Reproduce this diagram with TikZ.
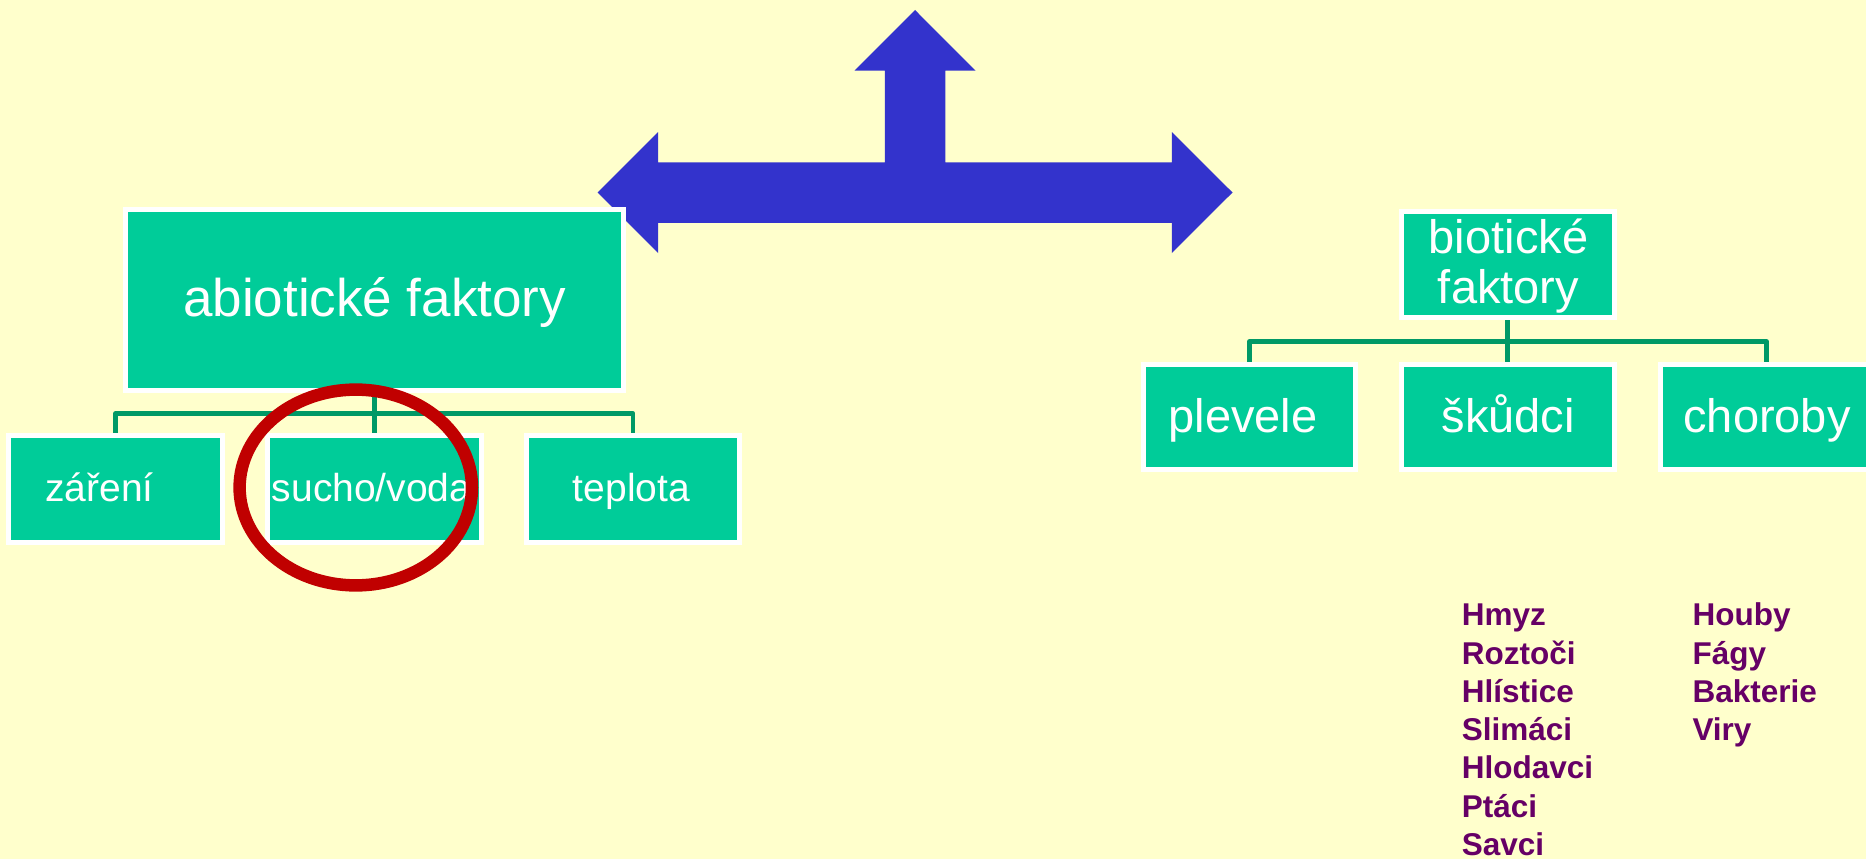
\documentclass[tikz,border=0pt]{standalone}
\usepackage{fontspec}
\setmainfont{Liberation Sans}

\pgfdeclarelayer{back}
\pgfsetlayers{back,main}

\definecolor{paper}{HTML}{FFFFCC}
\definecolor{boxgreen}{HTML}{00CC99}
\definecolor{linkgreen}{HTML}{009966}
\definecolor{arrowblue}{HTML}{3333CC}
\definecolor{markred}{HTML}{C00000}
\definecolor{listpurple}{HTML}{660066}

\begin{document}
\begin{tikzpicture}[x=1pt,y=-1pt,
  box/.style={rectangle, fill=boxgreen, draw=white, line width=5pt, inner sep=0pt},
  link/.style={draw=linkgreen, line width=4.7pt, line join=round},
  big/.style={text=white, inner sep=0pt, font=\fontsize{53}{53}\selectfont},
  mid/.style={text=white, inner sep=0pt, font=\fontsize{47}{47}\selectfont},
  small/.style={text=white, inner sep=0pt, font=\fontsize{39}{39}\selectfont},
  item/.style={text=listpurple, inner sep=0pt, anchor=base west,
    font=\bfseries\fontsize{31.5}{31.5}\selectfont}]

\useasboundingbox (0,0) rectangle (1866,859);
\begin{pgfonlayer}{back}
  \fill[paper] (0,0) rectangle (1866,859);
\end{pgfonlayer}

% three-way block arrow
\fill[arrowblue] (597.5,192.5) -- (658.2,132) -- (658.2,162.25) -- (884.75,162.25)
  -- (884.75,70.7) -- (854.5,70.7) -- (915,10) -- (975.5,70.7) -- (945.25,70.7)
  -- (945.25,162.25) -- (1171.8,162.25) -- (1171.8,132) -- (1232.5,192.5)
  -- (1171.8,253) -- (1171.8,222.75) -- (658.2,222.75) -- (658.2,253) -- cycle;

% abiotic tree
\node[box, minimum width=498pt, minimum height=181pt] (abio) at (374.2,300.3) {};
\node[box, minimum width=213.5pt, minimum height=107pt] (zar) at (115.3,489.3) {};
\node[box, minimum width=213.5pt, minimum height=107pt] (suc) at (374.3,489.3) {};
\node[box, minimum width=213.5pt, minimum height=107pt] (tep) at (633,489.3) {};

% biotic tree
\node[box, minimum width=213.5pt, minimum height=106pt] (bio) at (1507.8,264.8) {};
\node[box, minimum width=212.6pt, minimum height=105pt] (ple) at (1249.5,416.7) {};
\node[box, minimum width=212.6pt, minimum height=105pt] (sku) at (1508,416.7) {};
\node[box, minimum width=212.6pt, minimum height=105pt] (cho) at (1766.3,416.7) {};

% connectors
\begin{pgfonlayer}{back}
  \coordinate (lbar) at (0,413.8);
  \coordinate (rbar) at (0,341.5);
  \draw[link] (abio.south) -- (abio.south |- suc.north);
  \draw[link] (zar.north) -- (zar.north |- lbar) -- (tep.north |- lbar) -- (tep.north);
  \draw[link] (bio.south) -- (bio.south |- sku.north);
  \draw[link] (ple.north) -- (ple.north |- rbar) -- (cho.north |- rbar) -- (cho.north);
\end{pgfonlayer}

% box labels
\node[big, anchor=base] (abioT) at (374.6,316.7) {abiotické faktory};
\node[small, anchor=base west] (zarT) at (45,501.7) {záření};
\node[small, anchor=base west] (sucT) at (271.7,501.7) {sucho/voda};
\node[small, anchor=base] (tepT) at (631.4,501.7) {teplota};
\node[mid, anchor=base] (bioT1) at (1508.5,253.5) {biotické};
\node[mid, anchor=base] (bioT2) at (1508.5,303.5) {faktory};
\node[mid, anchor=base west] (pleT) at (1168.3,432.5) {plevele};
\node[mid, anchor=base] (skuT) at (1508.3,432.5) {škůdci};
\node[mid, anchor=base] (choT) at (1767,432) {choroby};

% highlight ring
\draw[markred, line width=12.5pt] (355.8,487.5) ellipse [x radius=116.2, y radius=97.9];

% pests and diseases
\foreach \w [count=\i from 0] in {Hmyz,Roztoči,Hlístice,Slimáci,Hlodavci,Ptáci,Savci}
  \node[item] (pest\i) at (1461.7,{625.7+38.3*\i}) {\w};
\foreach \w [count=\i from 0] in {Houby,Fágy,Bakterie,Viry}
  \node[item] (dis\i) at (1692.3,{625.7+38.3*\i}) {\w};

\end{tikzpicture}
\end{document}
